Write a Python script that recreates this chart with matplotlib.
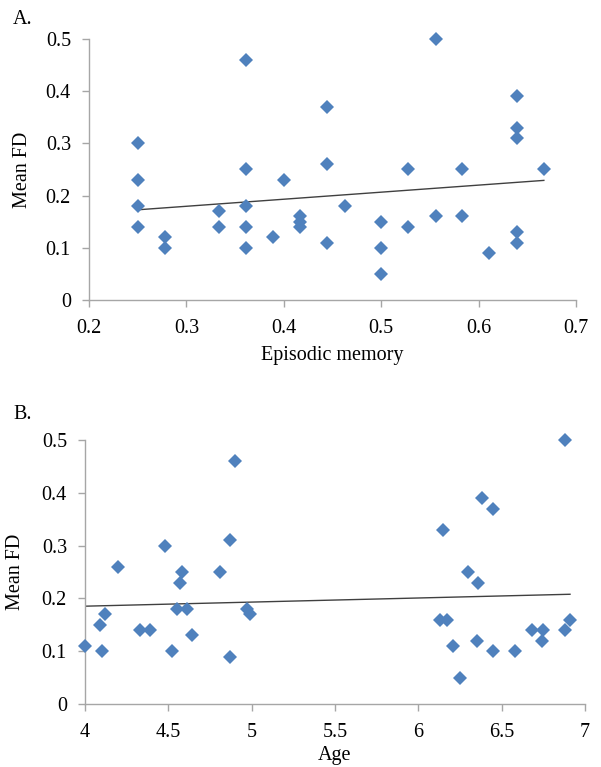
import numpy as np
import matplotlib
matplotlib.use("Agg")
import matplotlib.pyplot as plt

plt.rcParams["font.family"] = ["Liberation Serif", "DejaVu Serif"]
plt.rcParams["font.size"] = 14.5

# panel A: episodic memory vs mean FD
mem = [0.25, 0.25, 0.25, 0.25, 0.278, 0.278, 0.333, 0.333,
       0.361, 0.361, 0.361, 0.361, 0.361, 0.389, 0.40,
       0.417, 0.417, 0.417, 0.444, 0.444, 0.444, 0.463,
       0.50, 0.50, 0.50, 0.528, 0.528, 0.556, 0.556, 0.583, 0.583,
       0.611, 0.639, 0.639, 0.639, 0.639, 0.639, 0.667]
fd_a = [0.30, 0.23, 0.18, 0.14, 0.12, 0.10, 0.17, 0.14,
        0.46, 0.25, 0.18, 0.14, 0.10, 0.12, 0.23,
        0.16, 0.15, 0.14, 0.37, 0.26, 0.11, 0.18,
        0.15, 0.10, 0.05, 0.25, 0.14, 0.50, 0.16, 0.25, 0.16,
        0.09, 0.39, 0.33, 0.31, 0.13, 0.11, 0.25]

# panel B: age vs mean FD
age = [4.0, 4.09, 4.10, 4.12, 4.20, 4.33, 4.39, 4.48, 4.52, 4.55,
       4.58, 4.57, 4.61, 4.64, 4.81, 4.87, 4.87, 4.90, 4.97, 4.99,
       6.88, 6.38, 6.45, 6.15, 6.30, 6.36, 6.13, 6.17, 6.21, 6.35,
       6.45, 6.58, 6.68, 6.75, 6.74, 6.88, 6.91, 6.25]
fd_b = [0.11, 0.15, 0.10, 0.17, 0.26, 0.14, 0.14, 0.30, 0.10, 0.18,
        0.25, 0.23, 0.18, 0.13, 0.25, 0.31, 0.09, 0.46, 0.18, 0.17,
        0.50, 0.39, 0.37, 0.33, 0.25, 0.23, 0.16, 0.16, 0.11, 0.12,
        0.10, 0.10, 0.14, 0.14, 0.12, 0.14, 0.16, 0.05]

blue = "#4F81BD"
axis_gray = "#A6A6A6"

fig = plt.figure(figsize=(6.01, 7.67), dpi=100)
ax_a = fig.add_axes([0.1481, 0.6089, 0.8103, 0.3403])
ax_b = fig.add_axes([0.1414, 0.0821, 0.8320, 0.3442])


def style(ax):
    for s in ["top", "right"]:
        ax.spines[s].set_visible(False)
    for s in ["left", "bottom"]:
        ax.spines[s].set_color(axis_gray)
        ax.spines[s].set_linewidth(1.0)
    ax.tick_params(direction="out", length=5, color=axis_gray, width=1.0)
    ax.tick_params(axis="x", pad=9)
    ax.tick_params(axis="y", pad=8)
    ax.set_ylim(0, 0.5)
    ax.set_yticks([0, 0.1, 0.2, 0.3, 0.4, 0.5])
    ax.set_yticklabels(["0", "0.1", "0.2", "0.3", "0.4", "0.5"])


def scatter_trend(ax, x, y):
    x = np.array(x)
    y = np.array(y)
    ax.plot(x, y, linestyle="none", marker="D", markersize=6.8,
            color=blue, markeredgewidth=0, zorder=3, clip_on=False)
    k, b = np.polyfit(x, y, 1)
    xs = np.array([x.min(), x.max()])
    ax.plot(xs, k * xs + b, color="#404040", linewidth=1.0, zorder=2)


scatter_trend(ax_a, mem, fd_a)
style(ax_a)
ax_a.set_xlim(0.2, 0.7)
ax_a.set_xticks([0.2, 0.3, 0.4, 0.5, 0.6, 0.7])
ax_a.set_xticklabels(["0.2", "0.3", "0.4", "0.5", "0.6", "0.7"])
ax_a.set_xlabel("Episodic memory")
ax_a.set_ylabel("Mean FD")
ax_a.yaxis.set_label_coords(-0.117, 0.5)
ax_a.xaxis.set_label_coords(0.5, -0.176)

scatter_trend(ax_b, age, fd_b)
style(ax_b)
ax_b.set_xlim(4, 7)
ax_b.set_xticks([4, 4.5, 5, 5.5, 6, 6.5, 7])
ax_b.set_xticklabels(["4", "4.5", "5", "5.5", "6", "6.5", "7"])
ax_b.set_xlabel("Age")
ax_b.set_ylabel("Mean FD")
ax_b.yaxis.set_label_coords(-0.12, 0.5)
ax_b.xaxis.set_label_coords(0.5, -0.158)

fig.text(0.0216, 0.974, "A.", ha="left", va="center")
fig.text(0.0216, 0.4595, "B.", ha="left", va="center")

fig.savefig("out.png", dpi=100)
